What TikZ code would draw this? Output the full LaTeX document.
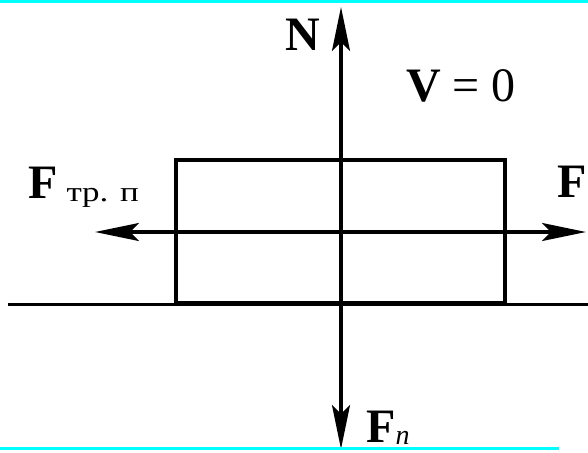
\documentclass[tikz,border=0pt]{standalone}
\usepackage{fontspec}
\setmainfont{Liberation Serif}
\usetikzlibrary{arrows.meta}
\definecolor{ciano}{RGB}{0,255,255}

\begin{document}
\begin{tikzpicture}[
    x=1pt,
    y=-1pt,
    every node/.style={inner sep=0pt},
    forca/.style={
        draw=black,
        line width=3.5pt,
        -{Stealth[length=44pt,width=18pt,inset=9pt]}
    },
    corpo/.style={
        draw=black,
        line width=4.5pt
    },
    rotulo/.style={
        anchor=base west,
        font=\fontsize{48}{52}\selectfont
    },
    faixa/.style={
        fill=ciano,
        draw=none
    }
]

\useasboundingbox (0,0) rectangle (588,452);

% ============================================================
% CHÃO E CORPO
% ============================================================

\draw[
    line width=3pt
] (8,304) -- (588,304);

\draw[corpo] (176,160) rectangle (505,303);

% ============================================================
% FORÇAS
% ============================================================

\coordinate (centro) at (341,232);
\coordinate (topo) at (341,7);
\coordinate (base) at (341,449);
\coordinate (esq) at (95,232);
\coordinate (dir) at (586,232);

\draw[forca] (centro) -- (topo);
\draw[forca] (centro) -- (base);
\draw[forca] (centro) -- (esq);
\draw[forca] (centro) -- (dir);

% ============================================================
% MOLDURA
% ============================================================

\fill[faixa] (0,0) rectangle (588,3);
\fill[faixa] (0,447) rectangle (559,450);

% ============================================================
% RÓTULOS
% ============================================================

\node[
    rotulo
] (normal) at (285,50)
{\bfseries N};

\node[
    rotulo
] (velocidade) at (406,101)
{\textbf{V} = 0};

\node[
    rotulo
] (atrito) at (28,198)
{\textbf{F}\hspace{9pt}\raisebox{-3pt}{\fontsize{28}{30}\selectfont\scalebox{1.25}[1]{тр. п}}};

\node[
    rotulo
] (forca) at (557,197)
{\bfseries F};

\node[
    rotulo
] (peso) at (366,442)
{\textbf{F}\raisebox{-2pt}{\fontsize{28}{30}\selectfont\itshape n}};

\end{tikzpicture}
\end{document}
